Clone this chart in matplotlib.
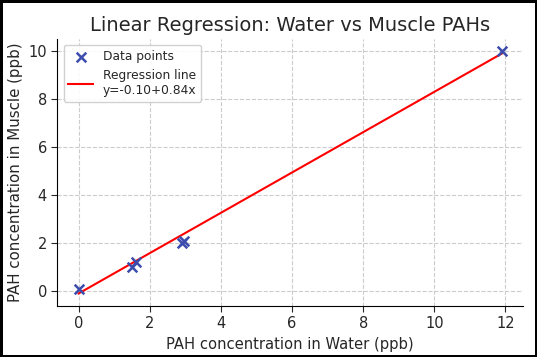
import numpy as np
import matplotlib
matplotlib.use('Agg')
import matplotlib.pyplot as plt

# PAH 浓度数据 (ppb)
water = [0.0, 1.5, 1.6, 2.9, 2.95, 11.9]
muscle = [0.1, 1.0, 1.2, 2.0, 2.1, 10.0]
intercept = -0.10
slope = 0.84

x = np.array(water)
y_fit = intercept + slope * x

plt.rcParams['text.color'] = '#262626'
plt.rcParams['axes.labelcolor'] = '#262626'
plt.rcParams['xtick.color'] = '#262626'
plt.rcParams['ytick.color'] = '#262626'

fig = plt.figure(figsize=(5.37, 3.57), dpi=100)
fig.patch.set_edgecolor('black')
fig.patch.set_linewidth(2.5)
ax = fig.add_axes([0.107, 0.144, 0.867, 0.747])

ax.scatter(water, muscle, marker='x', color='#3b4cad', s=48, linewidths=1.8,
           label='Data points', zorder=3)
ax.plot(x, y_fit, color='red', linewidth=1.5,
        label='Regression line\ny={:.2f}+{:.2f}x'.format(intercept, slope))

ax.set_title('Linear Regression: Water vs Muscle PAHs', fontsize=14, pad=6)
ax.set_xlabel('PAH concentration in Water (ppb)', fontsize=10.6)
ax.set_ylabel('PAH concentration in Muscle (ppb)', fontsize=10.8)
ax.tick_params(labelsize=10.5, direction='out', length=4)
ax.spines['top'].set_visible(False)
ax.spines['right'].set_visible(False)
ax.grid(True, linestyle='--', color='#cccccc', linewidth=0.8)
ax.set_axisbelow(True)
ax.legend(loc='upper left', fontsize=8.8, framealpha=0.9)

fig.savefig('out.png', dpi=100, edgecolor=fig.get_edgecolor())
